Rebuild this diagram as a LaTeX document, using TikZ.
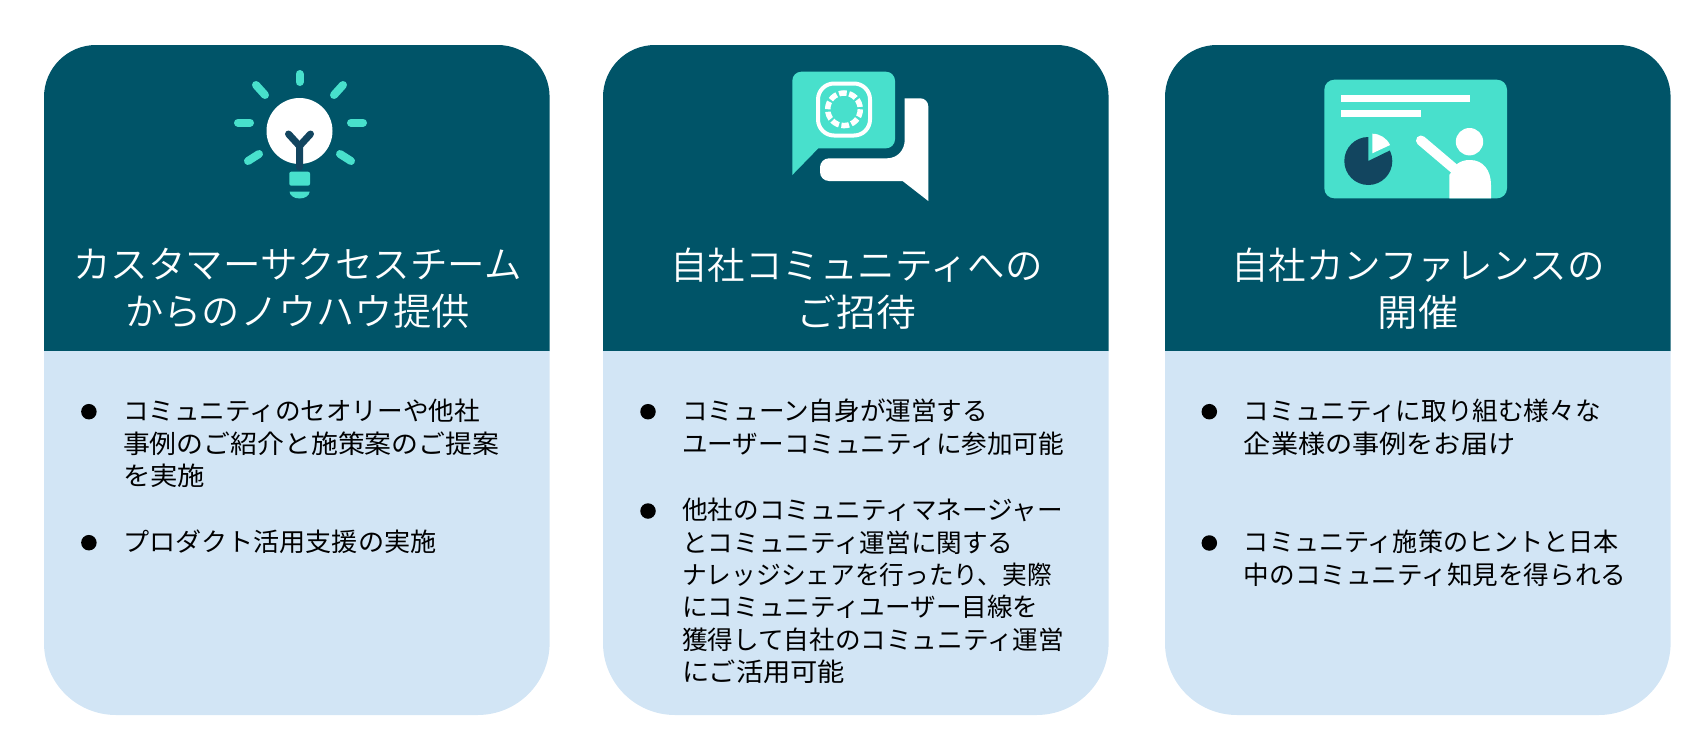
\documentclass[tikz,border=0pt]{standalone}
\usepackage{fontspec}
\usepackage{graphicx}
\setmainfont{Noto Sans CJK JP}
\newfontfamily\headfont{Noto Sans CJK JP DemiLight}
\usetikzlibrary{calc}
\definecolor{hdrteal}{HTML}{005468}
\definecolor{bodyblue}{HTML}{D2E5F5}
\definecolor{mint}{HTML}{48E0CC}
\definecolor{navy}{HTML}{12455F}
\newcommand{\wider}[2]{\scalebox{#1}[1]{#2}}
\tikzset{
  headtxt/.style={text=white, align=center, inner sep=0, font=\headfont\fontsize{37.5}{47.5}\selectfont},
  bodytxt/.style={text=black, align=left, anchor=north west, inner sep=0, font=\fontsize{25.6}{32.4}\selectfont},
  dot/.style={circle, fill=black, inner sep=0, minimum size=15.5pt},
  ray/.style={mint, line width=8pt, line cap=round},
  stem/.style={navy, line width=7pt, line cap=round, line join=round}
}
\begin{document}
\begin{tikzpicture}[x=1pt,y=-1pt]
\useasboundingbox (0,0) rectangle (1706,742);
% cards
\foreach \x in {44,603,1165} {
 \fill[hdrteal] (\x,351) [rounded corners=52pt] -- (\x,45) -- ($(\x,45)+(505.6,0)$) [sharp corners] -- ($(\x,351)+(505.6,0)$) -- cycle;
 \fill[bodyblue] (\x,351) -- ($(\x,351)+(505.6,0)$) [rounded corners=72pt] -- ($(\x,715)+(505.6,0)$) -- (\x,715) [sharp corners] -- cycle;
}
% bulb
\fill[white] (299.5,131) circle (33);
\draw[stem] (299.5,167) -- (299.5,146) (288.5,134) -- (299.5,146) -- (310.5,134);
\draw[ray] (299.5,74) -- (299.5,82);
\draw[ray] (256,85) -- (265,95);
\draw[ray] (343,85) -- (334,95);
\draw[ray] (238,122.7) -- (250,122.7);
\draw[ray] (351,122.7) -- (363,122.7);
\draw[ray] (248,161) -- (259,154);
\draw[ray] (351,161) -- (340,154);
\fill[mint, rounded corners=2pt] (289.3,171.7) rectangle (310,185.7);
\fill[mint] (289.6,191.7) -- (309.6,191.7) arc (0:180:10 and 6.8) -- cycle;
% chat bubbles
\fill[mint] (792.3,175) [rounded corners=9pt] -- (792.3,71.7) -- (895,71.7) -- (895,148.3) [sharp corners] -- (818.3,148.3) -- cycle;
\draw[white, line width=4pt, rounded corners=16pt] (818,83.5) rectangle (870,135.5);
\draw[white, line width=5.5pt, dash pattern=on 7.7pt off 2.54pt] (844,109.3) circle (16.3);
\fill[white] (904.7,98.3) [rounded corners=8pt] -- (928.3,98.3) [sharp corners] -- (928.3,201) -- (902.6,181) [rounded corners=9pt] -- (820,181) -- (820,158.3) [sharp corners] -- (887,158.3) .. controls (897.5,158.3) and (904.7,150) .. (904.7,140) -- cycle;
% board with presenter
\fill[mint, rounded corners=10pt] (1324.3,79.7) rectangle (1507,198.3);
\fill[white] (1341,95) rectangle (1469.5,101.7);
\fill[white] (1341,110) rectangle (1420.5,117.3);
\fill[navy] (1368.3,161) -- (1368.3,137) arc (-90:-386:24) -- cycle;
\fill[white] (1372.3,153.3) -- (1372.3,133.7) arc (-90:-25:19.6) -- cycle;
\fill[white] (1469.5,141.7) circle (13.7);
\draw[white, line width=10pt, line cap=round] (1421,140.5) -- (1454,168.5);
\fill[white] (1449.3,198.3) -- (1449.3,175) -- (1457,164) .. controls (1461,161) and (1465,160) .. (1470,160) .. controls (1483,160) and (1491,170) .. (1491,185) -- (1491,198.3) -- cycle;
% headings
\node[headtxt] (head1) at (297.5,288.5) {カスタマーサクセスチーム\\\wider{1.02}{からのノウハウ提供}};
\node[headtxt] (head2) at (856.5,288.5) {自社コミュニティへの\\\wider{1.06}{ご招待}};
\node[headtxt] (head3) at (1418,288.5) {自社カンファレンスの\\\wider{1.08}{開催}};
% first card
\node[dot] (dot11) at (88.9,411.7) {};
\node[bodytxt] (txt11) at (122.8,399) {コミュニティのセオリーや他社\\\wider{1.05}{事例のご紹介と施策案のご提案}\\\wider{1.07}{を実施}};
\node[dot] (dot12) at (88.9,542.7) {};
\node[bodytxt] (txt12) at (122.8,530) {\wider{1.02}{プロダクト活用支援の実施}};
% second card
\node[dot] (dot21) at (648,411.7) {};
\node[bodytxt] (txt21) at (682,399) {コミューン自身が運営する\\ユーザーコミュニティに参加可能};
\node[dot] (dot22) at (648,511) {};
\node[bodytxt] (txt22) at (682,498) {他社のコミュニティマネージャー\\とコミュニティ運営に関する\\\wider{0.965}{ナレッジシェアを行ったり、実際}\\にコミュニティユーザー目線を\\獲得して自社のコミュニティ運営\\\wider{1.065}{にご活用可能}};
% third card
\node[dot] (dot31) at (1209.3,411.7) {};
\node[bodytxt] (txt31) at (1243.7,399) {コミュニティに取り組む様々な\\\wider{1.06}{企業様の事例をお届け}};
\node[dot] (dot32) at (1209.3,543) {};
\node[bodytxt] (txt32) at (1243.7,530) {\wider{0.98}{コミュニティ施策のヒントと日本}\\中のコミュニティ知見を得られる};
\end{tikzpicture}
\end{document}
